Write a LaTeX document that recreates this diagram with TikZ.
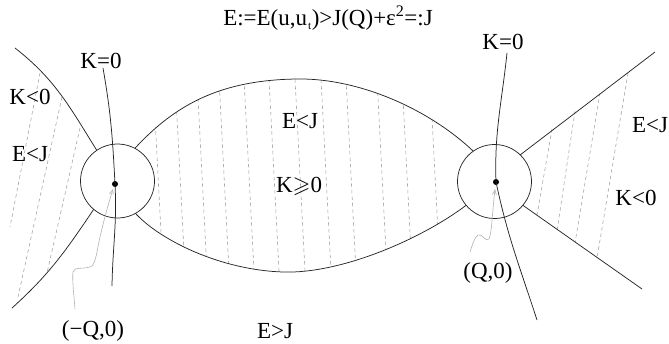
\documentclass[tikz,border=0pt]{standalone}
\usepackage{amssymb}
\usepackage{fontspec}
\setmainfont{Liberation Serif}
\usetikzlibrary{arrows.meta}
\begin{document}
\begin{tikzpicture}[x=1pt,y=-1pt,
  curve/.style={line width=0.75pt,black!85},
  hatch/.style={gray!75,line width=0.55pt,dash pattern=on 3.5pt off 3pt},
  squig/.style={gray!60,line width=0.6pt,-{Straight Barb[length=5pt,width=4pt]}},
  lbl/.style={font=\fontsize{23}{26}\selectfont,inner sep=0pt},
  ring/.style={circle,draw,line width=0.75pt,black!85,inner sep=0pt,outer sep=0pt,minimum size=74pt},
  dotn/.style={circle,fill,inner sep=0pt,minimum size=6pt}]
\useasboundingbox (0,0) rectangle (669,343);
% hatching middle
\begin{scope}
\clip (135,147) .. controls (175,105) and (220,80) .. (297,79) .. controls (360,78) and (430,110) .. (473,151) -- (467,205) .. controls (420,240) and (340,274) .. (283,272) .. controls (220,270) and (160,240) .. (135,213) -- cycle;
\foreach \x in {158,180,202,224,249,274,300,326,351,382,407,435}
  \draw[hatch] (\x-6,60) -- (\x+6,290);
\end{scope}
% hatching left
\draw[hatch] (40,73) -- (10,227);
\draw[hatch] (62,97) -- (18,297);
\draw[hatch] (80,128) -- (47,273);
% hatching right
\draw[hatch] (552,129) -- (537,215);
\draw[hatch] (575,111) -- (557,231);
\draw[hatch] (600,93) -- (575,243);
\draw[hatch] (628,73) -- (597,258);
% circles and dots
\node[ring] (cl) at (117.5,181) {};
\node[ring] (cr) at (494.5,181.5) {};
\node[dotn] (dl) at (115,184) {};
\node[dotn] (dr) at (496,182) {};
% free ends
\coordinate (lu) at (15,48);
\coordinate (ll) at (12,308);
\coordinate (ru) at (655,52);
\coordinate (rl) at (642,289);
\coordinate (kl1) at (103,68);
\coordinate (kl2) at (112,286);
\coordinate (kr1) at (507,53);
\coordinate (kr2) at (537,320);
\coordinate (s1) at (75,309);
\coordinate (s2) at (470,252);
% curves
\draw[curve] (lu) to[out=-38,in=122] (cl.124);
\draw[curve] (cl.230) to[out=-124,in=42] (ll);
\draw[curve] (cl.62) .. controls (175,105) and (220,80) .. (297,79) .. controls (360,78) and (430,110) .. (cr.125);
\draw[curve] (cl.299) .. controls (160,240) and (220,270) .. (283,272) .. controls (340,274) and (420,240) .. (cr.220);
\draw[curve] (cr.46) -- (ru);
\draw[curve] (cr.320) -- (rl);
\draw[curve] (kl1) to[out=-80,in=93] (dl.center) to[out=-87,in=89] (kl2);
\draw[curve] (kr1) to[out=-96,in=92] (dr.center) to[out=-78,in=108] (kr2);
% squiggle arrows
\draw[squig] (s1) .. controls (74,295) and (72,280) .. (73,272) .. controls (74,266) and (85,270) .. (92,266) .. controls (96,262) and (97,250) .. (100,237) .. controls (104,220) and (108,205) .. (113,189);
\draw[squig] (s2) .. controls (472,246) and (474,238) .. (478,235) .. controls (482,233) and (486,243) .. (489,239) .. controls (492,232) and (492,215) .. (495,189);
% labels
\node[lbl] (title) at (328,18) {E:=E(u,u\kern1pt\textsubscript{\scalebox{0.7}{t}})>J(Q)+ε\textsuperscript{2}=:J};
\node[lbl] (k0l) at (101,61) {K=0};
\node[lbl] (k0r) at (503,42) {K=0};
\node[lbl] (kneg1) at (30,97) {K<0};
\node[lbl] (elj1) at (30,154) {E<J};
\node[lbl] (elj2) at (300,121) {E<J};
\node[lbl] (kpos) at (299,186) {K$\geqslant$0};
\node[lbl] (elj3) at (650,125) {E<J};
\node[lbl] (kneg2) at (636,198) {K<0};
\node[lbl] (q) at (488,273) {(Q,0)};
\node[lbl] (mq) at (93,331) {(−Q,0)};
\node[lbl] (egj) at (275,331) {E>J};
\end{tikzpicture}
\end{document}
